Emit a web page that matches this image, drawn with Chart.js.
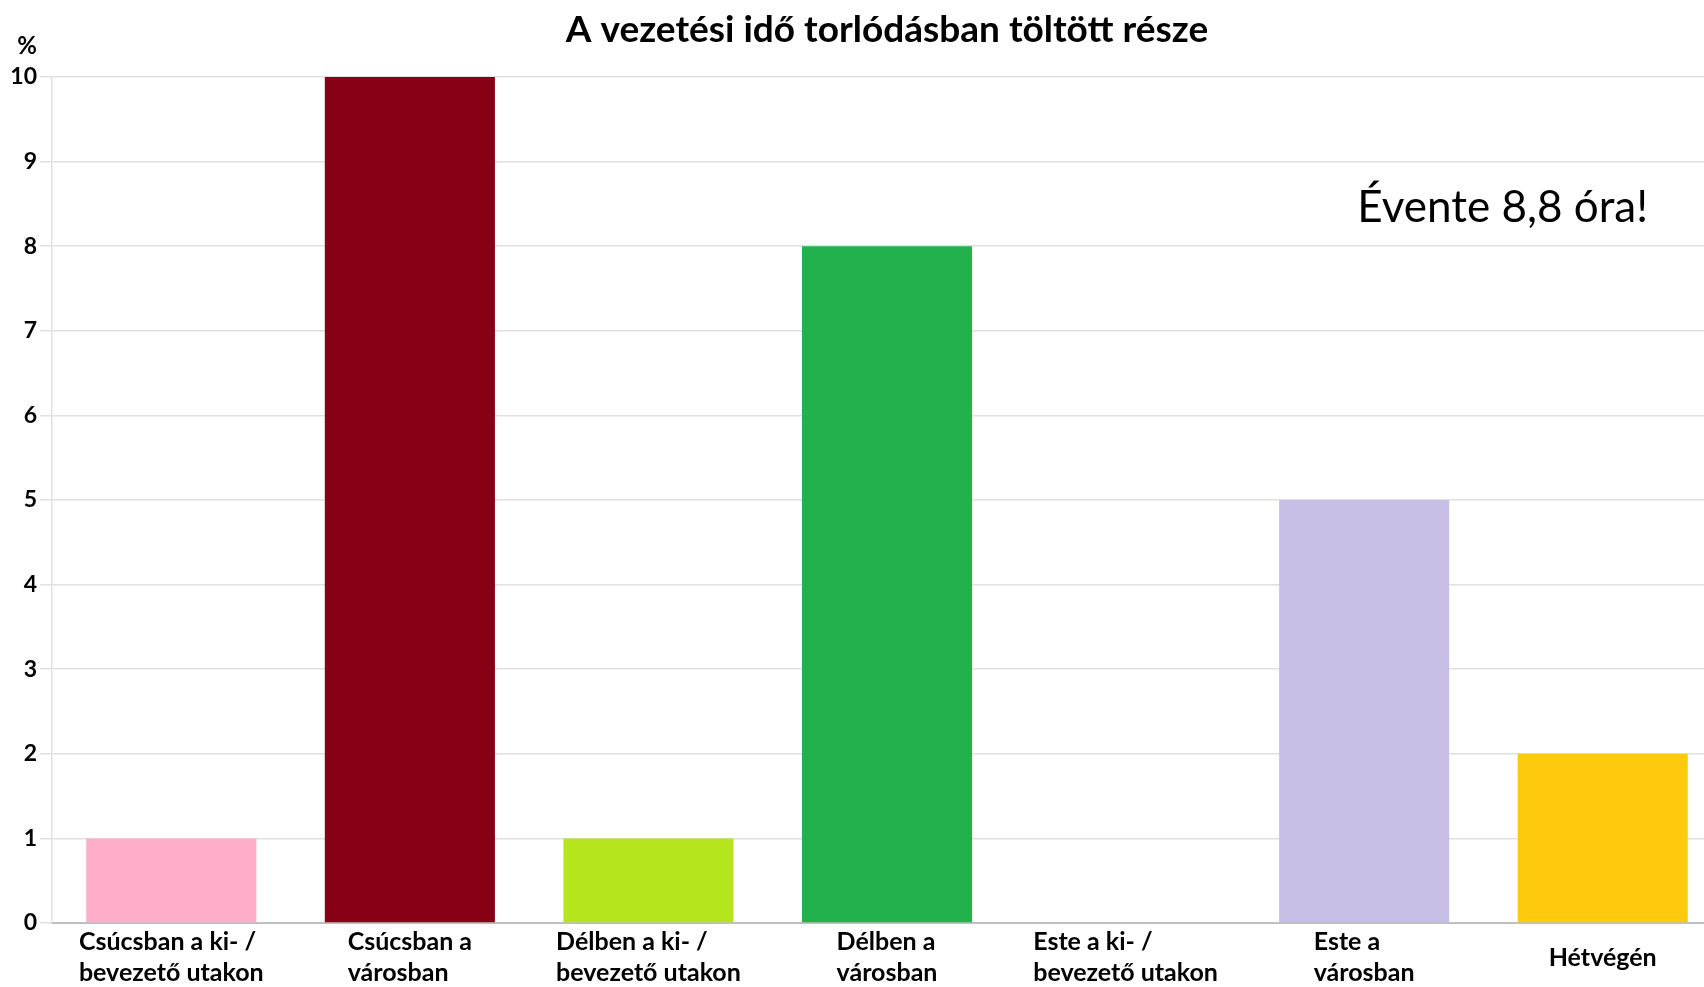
<!DOCTYPE html>
<html>
<head>
<meta charset="utf-8">
<script src="https://cdn.jsdelivr.net/npm/chart.js@4"></script>
<style>
  html, body { margin: 0; padding: 0; background: #fff; overflow: hidden; }
  #wrap { width: 1722px; height: 987px; }
</style>
</head>
<body>
<div id="wrap"><canvas id="congestionCanvas"></canvas></div>
<script>
// Chart data
const categories = [
  ['Csúcsban a ki- /', 'bevezető utakon'],
  ['Csúcsban a', 'városban'],
  ['Délben a ki- /', 'bevezető utakon'],
  ['Délben a', 'városban'],
  ['Este a ki- /', 'bevezető utakon'],
  ['Este a', 'városban'],
  ['Hétvégén'],
];
const shareValues = [1, 10, 1, 8, 0, 5, 2];
const barColors = ['#FFAEC9', '#880015', '#B5E61D', '#22B14C', '#FFFFFF', '#C8BFE7', '#FFC90E'];
const yTicks = [0, 1, 2, 3, 4, 5, 6, 7, 8, 9, 10];
const titleText = 'A vezetési idő torlódásban töltött része';
const unitLabel = '%';
const noteText = 'Évente 8,8 óra!';

const LABEL_FONT = 'bold 25px Lato';

// Draws the '%' unit, the note and the left-aligned wrapped category labels
const extrasPlugin = {
  id: 'extras',
  afterDraw(chart) {
    const { ctx, chartArea, scales } = chart;
    const x = scales.x, y = scales.y;
    ctx.save();
    ctx.fillStyle = '#000';

    ctx.font = 'bold 24px Lato';
    ctx.textAlign = 'center';
    ctx.textBaseline = 'middle';
    ctx.fillText(unitLabel, 27, 46);

    ctx.font = '44px Lato';
    ctx.textAlign = 'right';
    ctx.fillText(noteText, chartArea.right - 74, y.getPixelForValue(8.45));

    ctx.font = LABEL_FONT;
    ctx.textAlign = 'left';
    const lineH = 31;
    categories.forEach((lines, i) => {
      const cx = x.getPixelForTick(i);
      const w = Math.max(...lines.map((l) => ctx.measureText(l).width));
      const top = chartArea.bottom + 19 + (2 - lines.length) * lineH / 2;
      lines.forEach((l, j) => {
        ctx.fillText(l, cx - w / 2, top + j * lineH);
      });
    });
    ctx.restore();
  },
};

new Chart(document.getElementById('congestionCanvas'), {
  type: 'bar',
  data: {
    labels: categories,
    datasets: [{
      data: shareValues,
      backgroundColor: barColors,
      borderWidth: 0,
      categoryPercentage: 1,
      barPercentage: 0.713,
    }],
  },
  options: {
    responsive: true,
    maintainAspectRatio: false,
    animation: false,
    layout: { padding: 0 },
    plugins: {
      legend: { display: false },
      tooltip: { enabled: false },
      title: {
        display: true,
        text: titleText,
        fullSize: false,
        color: '#000',
        font: { family: 'Lato', size: 37, weight: 'bold', lineHeight: 1.2 },
        padding: { top: 8, bottom: 24.6 },
      },
    },
    scales: {
      x: {
        grid: { display: false },
        border: { display: true, color: '#bfbfbf', width: 2 },
        ticks: { display: false },
        afterFit(scale) { scale.height = 64; },
      },
      y: {
        min: 0,
        max: 10,
        afterBuildTicks(scale) { scale.ticks = yTicks.map((v) => ({ value: v })); },
        grid: { color: '#e0e0e0', lineWidth: 1.5, tickLength: 12 },
        border: { display: true, color: '#e0e0e0', width: 1.5 },
        ticks: {
          color: '#000',
          padding: 3,
          font: { family: 'Lato', size: 23, weight: 'bold' },
        },
        afterFit(scale) { scale.width = 52; },
      },
    },
  },
  plugins: [extrasPlugin],
});
</script>
</body>
</html>
